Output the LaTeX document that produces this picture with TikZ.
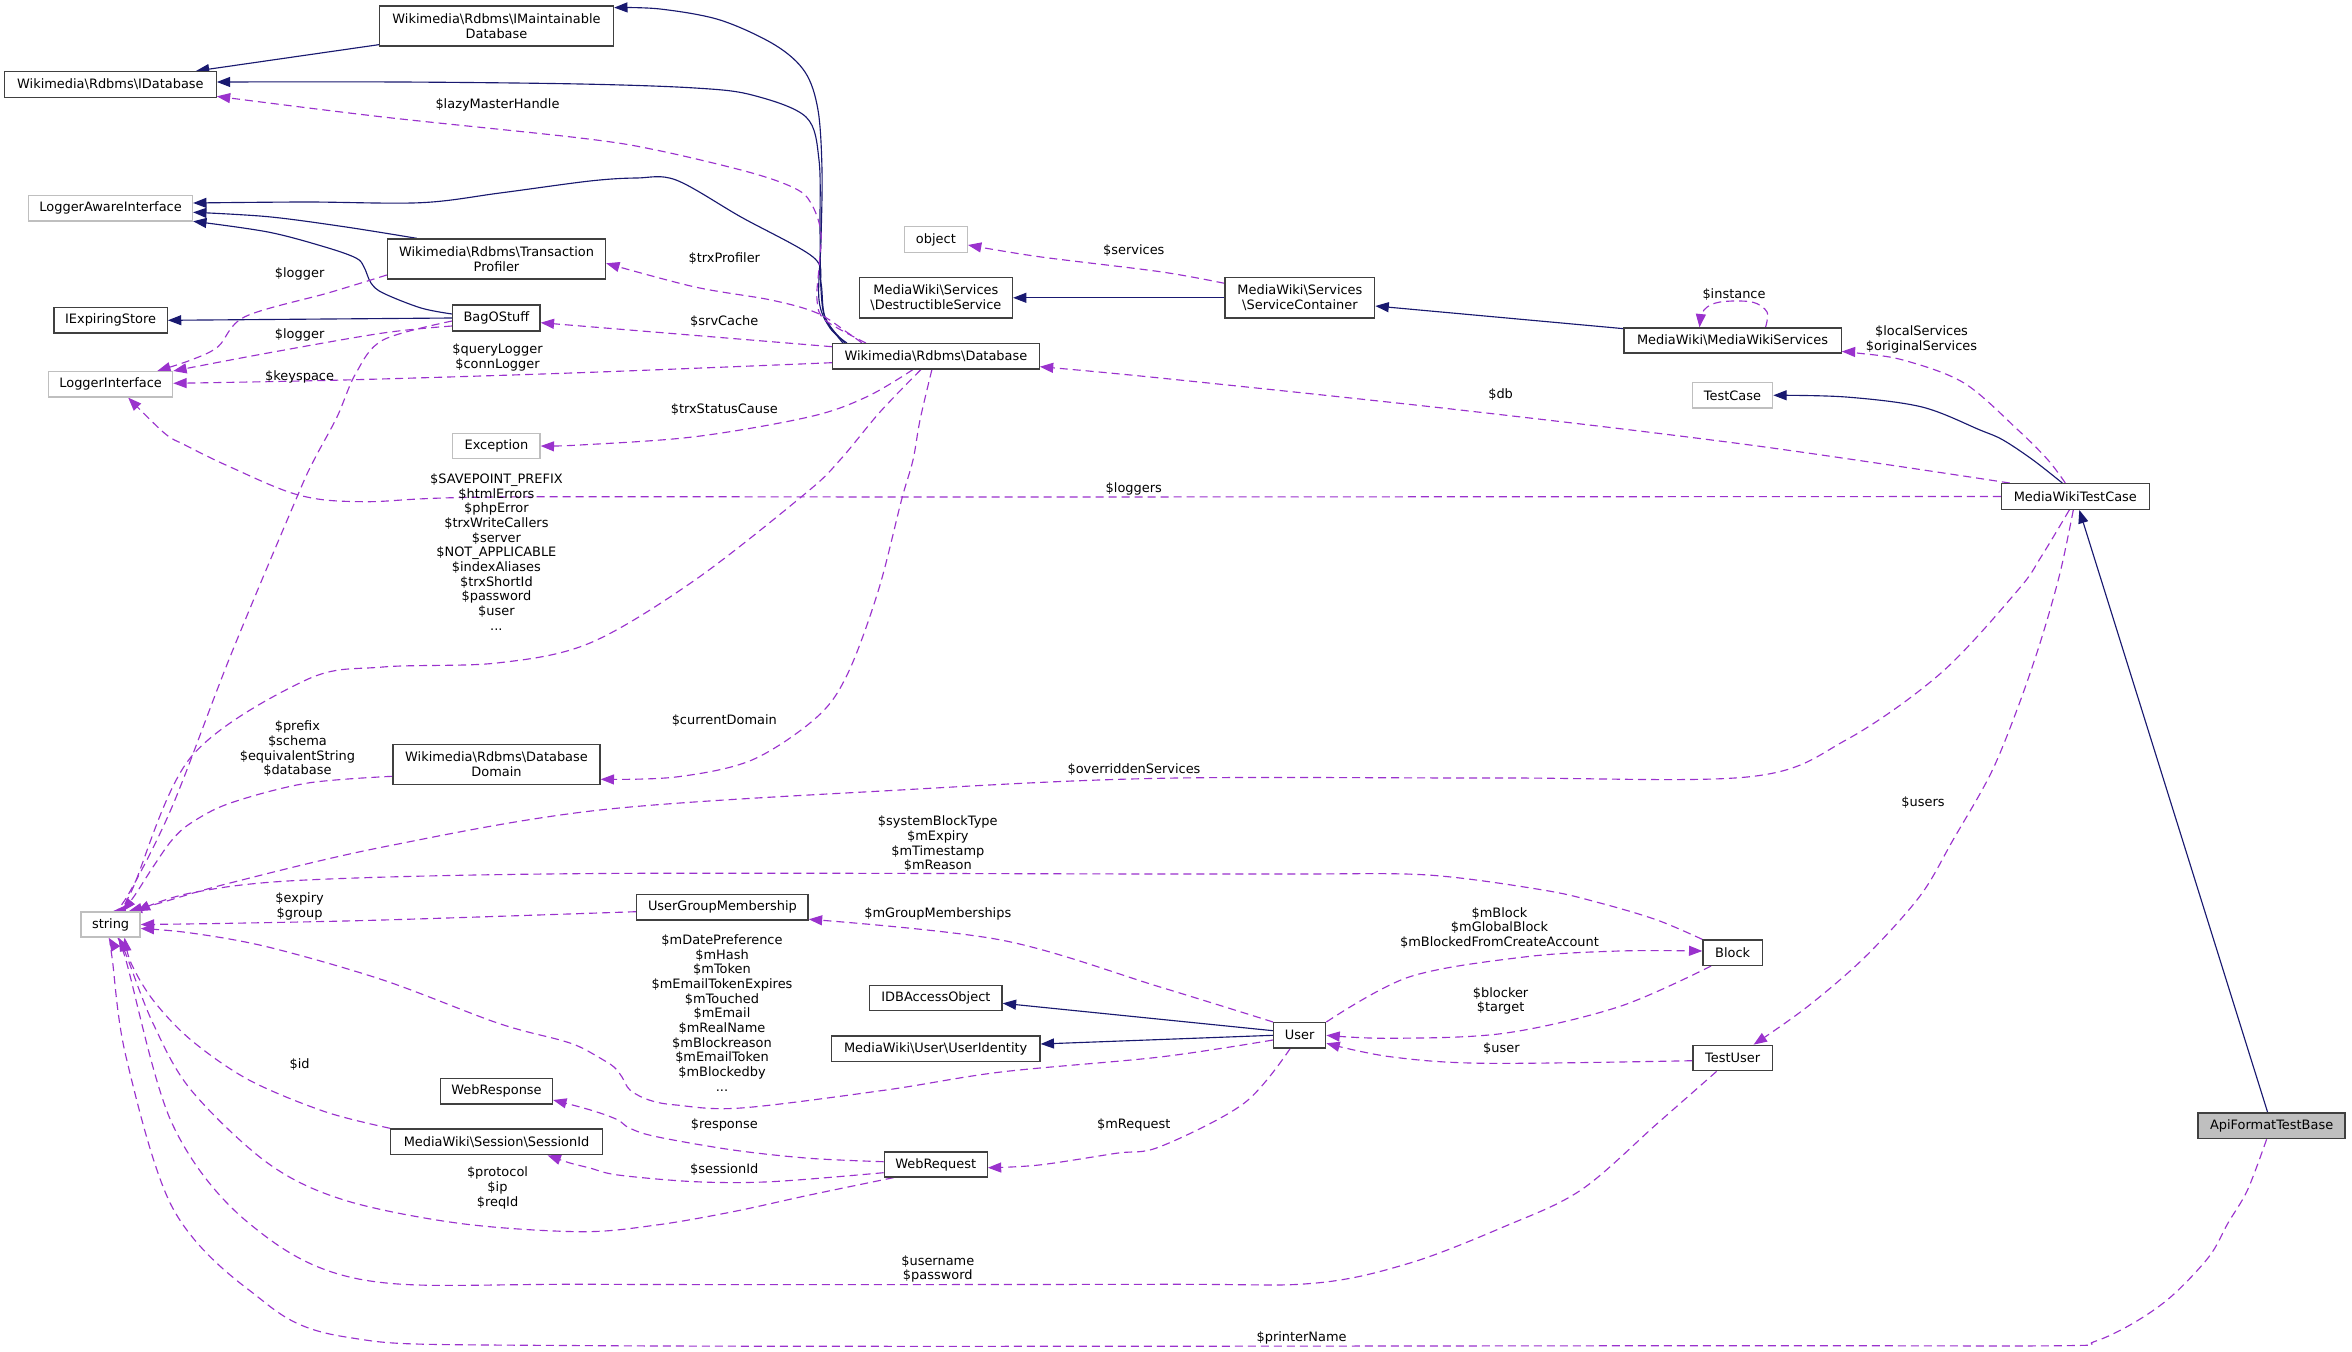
\documentclass[tikz,border=0pt]{standalone}
\usepackage{fontspec}
\setmainfont{DejaVu Sans}
\usetikzlibrary{arrows.meta,calc}
\definecolor{inhc}{HTML}{191970}
\definecolor{usec}{HTML}{9A32CD}
\definecolor{bordc}{HTML}{404040}
\definecolor{grayc}{HTML}{BFBFBF}
\newcommand{\mybs}{\textbackslash}
\pgfdeclarelayer{bglayer}
\pgfdeclarelayer{edgelayer}
\pgfsetlayers{bglayer,edgelayer,main}
\tikzset{
  cls/.style={draw=bordc,line width=1pt,fill=white,inner sep=0pt,align=center},
  ext/.style={cls,draw=grayc},
  wh/.style 2 args={minimum width=#1*0.75pt,minimum height=#2*0.75pt},
  arrhd/.style={-{Triangle[length=10pt,width=7.5pt]}},
  inherit/.style={draw=inhc,line width=0.85pt,arrhd},
  usage/.style={draw=usec,line width=0.85pt,dash pattern=on 6pt off 3.75pt,arrhd},
  lbl/.style={align=center,inner sep=0pt},
  sm/.style={smooth,tension=0.55}
}
\begin{document}
\begin{tikzpicture}[x=0.75pt,y=-0.75pt,font=\fontsize{9.7}{11}\selectfont]
\begin{pgfonlayer}{bglayer}
\fill[white] (0,0) rectangle (2352,1352);
\end{pgfonlayer}
\useasboundingbox (0,0) rectangle (2352,1352);

% ---------- nodes ----------
\node[cls,wh={234}{40}] (imaint) at (496.5,26) {Wikimedia\mybs Rdbms\mybs IMaintainable\\Database};
\node[cls,wh={211.6}{25.6}] (idb) at (110.4,84.5) {Wikimedia\mybs Rdbms\mybs IDatabase};
\node[ext,wh={163.8}{25.3}] (lai) at (110.6,208.3) {LoggerAwareInterface};
\node[cls,wh={218}{40}] (tp) at (496.5,259) {Wikimedia\mybs Rdbms\mybs Transaction\\Profiler};
\node[cls,wh={113.3}{25.3}] (ies) at (110.6,320.3) {IExpiringStore};
\node[cls,wh={87.3}{25.7}] (bag) at (496.4,318) {BagOStuff};
\node[ext,wh={124}{25.3}] (li) at (110.6,384.3) {LoggerInterface};
\node[ext,wh={87.3}{25.3}] (exc) at (496.4,446) {Exception};
\node[ext,wh={62.8}{25.6}] (obj) at (935.9,239.5) {object};
\node[cls,wh={153}{40.3}] (ds) at (935.9,297.8) {MediaWiki\mybs Services\\\mybs DestructibleService};
\node[cls,wh={206.6}{25.3}] (db) at (935.9,356.3) {Wikimedia\mybs Rdbms\mybs Database};
\node[cls,wh={149.7}{40.3}] (sc) at (1299.9,297.8) {MediaWiki\mybs Services\\\mybs ServiceContainer};
\node[cls,wh={217.3}{25}] (mws) at (1732.5,340.5) {MediaWiki\mybs MediaWikiServices};
\node[ext,wh={80.3}{25.3}] (tc) at (1732.5,395.3) {TestCase};
\node[cls,wh={147.8}{25.6}] (mwtc) at (2075.3,496.5) {MediaWikiTestCase};
\node[cls,wh={207}{40}] (dd) at (496.5,764.3) {Wikimedia\mybs Rdbms\mybs Database\\Domain};
\node[ext,wh={59}{25}] (str) at (110.6,924.5) {string};
\node[cls,wh={112}{25.3}] (wresp) at (496.5,1091.3) {WebResponse};
\node[cls,wh={211.5}{25.7}] (sid) at (496.5,1141.8) {MediaWiki\mybs Session\mybs SessionId};
\node[cls,wh={171.5}{25.3}] (ugm) at (722.4,907.3) {UserGroupMembership};
\node[cls,wh={132.4}{25.4}] (idba) at (935.9,998) {IDBAccessObject};
\node[cls,wh={208.6}{25.3}] (uid) at (935.7,1048.7) {MediaWiki\mybs User\mybs UserIdentity};
\node[cls,wh={103}{25}] (wreq) at (935.7,1164.5) {WebRequest};
\node[cls,wh={52}{25.3}] (user) at (1299.7,1035.3) {User};
\node[cls,wh={59.2}{25.3}] (block) at (1732.6,952.7) {Block};
\node[cls,wh={79.2}{25.4}] (tuser) at (1732.6,1058) {TestUser};
\node[cls,wh={147}{25.7},fill=grayc] (api) at (2271.6,1125.8) {ApiFormatTestBase};

\begin{pgfonlayer}{edgelayer}
% ---------- inheritance ----------
\draw[inherit] ($(imaint.south west)+(0,-2)$) -- ($(idb.north east)+(-21,0)$);
\draw[inherit] plot[sm] coordinates {($(db.north west)+(15,0)$) (830,328) (819,300) (821,240) (822,170) (818,110) (805,72) (775,45) (720,20) (660,9) ($(imaint.north east)+(0,2.3)$)};
\draw[inherit] plot[sm] coordinates {($(db.north west)+(13,0)$) (826,320) (821,290) (820,230) (819,160) (806,117) (752,95) (695,88) (580,84) (400,82) ($(idb.east)+(0,-2.5)$)};
\draw[inherit] plot[sm] coordinates {($(db.north west)+(11,0)$) (825,317) (821,283) (813,257) (741,217) (676,180) (637,178) (590,181) (500,193) (421,202.7) (306,202) ($(lai.east)+(0,-5.3)$)};
\draw[inherit] plot[sm] coordinates {($(tp.north west)+(30,0)$) (344,226.7) (268,216.7) ($(lai.east)+(0,4)$)};
\draw[inherit] plot[sm] coordinates {($(bag.west)+(0,-4)$) (421,308) (383,293) (371,283) (364,267) (356,258) (325,247) (268,232) ($(lai.east)+(0,13)$)};
\draw[inherit] (bag.west) -- (ies.east);
\draw[inherit] (sc.west) -- (ds.east);
\draw[inherit] ($(mws.north west)+(0,1.3)$) -- ($(sc.east)+(0,8.2)$);
\draw[inherit] plot[sm] coordinates {($(mwtc.north)+(-13,0)$) (2033,460) (2003,440) (1980,430) (1922,407) (1846,397) (tc.east)};
\draw[inherit] ($(api.north)+(-4,0)$) -- ($(mwtc.south)+(4,0)$);
\draw[inherit] ($(user.west)+(0,-4.6)$) -- ($(idba.east)+(0,5.3)$);
\draw[inherit] (user.west) -- ($(uid.east)+(0,-4.7)$);

% ---------- usage ----------
\draw[usage] plot[sm] coordinates {($(db.north west)+(34,0)$) (825,320) (817,300) (819,267) (821,233) (813,207) (798,190) (752,173) (656,150) (580,138) (383,117) ($(idb.south east)+(0,-1.6)$)};
\draw[usage] plot[sm] coordinates {($(db.north west)+(30,0)$) (848,333) (817,313) (771,300) (695,287) ($(tp.east)+(0,4.3)$)};
\draw[usage] ($(db.west)+(0,-9.6)$) -- ($(bag.east)+(0,4.7)$);
\draw[usage] plot[sm] coordinates {($(db.west)+(0,6.4)$) (580,372.7) (344,380) ($(li.east)+(0,-1)$)};
\draw[usage] plot[sm] coordinates {($(tp.west)+(0,16)$) (329,292.7) (245,316.7) (218,346.7) (191,360) ($(li.north east)+(-16,0)$)};
\draw[usage] plot[sm] coordinates {($(bag.west)+(0,8)$) (383,333) (268,353) (li.north east)};
\draw[usage] plot[sm] coordinates {($(bag.west)+(0,3)$) (383,340) (356,373) (337,417) (314,460) (297,497) (230,657) (172,807) (128,895) ($(str.north)+(2,0)$)};
\draw[usage] plot[sm] coordinates {($(db.south)+(-23,0)$) (867,396.7) (810,416.7) (695,436.7) (580,445) (exc.east)};
\draw[usage] plot[sm] coordinates {($(db.south)+(-15,0)$) (880,412) (840,460) (806,493) (695,580) (590,643) (497,663) (383,667) (306,680) (191,757) (132,890) ($(str.north)+(7,0)$)};
\draw[usage] plot[sm] coordinates {($(db.south)+(-4,0)$) (920,420) (913,460) (901.5,500) (878.5,590) (848,673) (817,717) (752,760) (676,777) ($(dd.east)+(0,15)$)};
\draw[usage] plot[sm] coordinates {($(dd.west)+(0,12)$) (306,783.3) (229.6,803.3) (191,823) (172,840) (153,867) (135,895) ($(str.north)+(12,0)$)};
\draw[usage] plot[sm] coordinates {(mwtc.west) (1000,497) (497.5,497) (364,501.7) (298.5,495) (229.6,466.7) (185,445) (164.6,433.3) ($(li.south)+(17.6,0)$)};
\draw[usage] plot[sm] coordinates {($(mwtc.north west)+(9,0)$) (1750,445) (1460,410) (1160,378) ($(db.east)+(0,10.4)$)};
\draw[usage] plot[sm] coordinates {($(mwtc.north)+(-10,0)$) (2048,460) (2018,430) (1964,383) (1903,360) (1857,353) ($(mws.east)+(0,11)$)};
\draw[usage] plot[sm] coordinates {($(mws.north)+(33,0)$) (1767,312) (1752,302) (1720,302) (1704,310) ($(mws.north)+(-33,0)$)};
\draw[usage] plot[sm] coordinates {($(sc.west)+(0,-14.5)$) (1160,271.7) (1039,256.7) ($(obj.east)+(0,5.5)$)};
\draw[usage] plot[sm] coordinates {($(mwtc.south)+(-6,0)$) (2041,557) (2018,590) (1941,673) (1846,740) (1750,776.7) (1500,778) (1160,778.3) (900,790) (600,810) (383,847) (230,883) (160,903) ($(str.north)+(18,0)$)};
\draw[usage] plot[sm] coordinates {($(mwtc.south)+(-2,0)$) (2060,573) (2041,640) (2018,707) (1991,773) (1953,840) (1920,896) (1865,957) (1807,1007) ($(tuser.north)+(21,0)$)};
\draw[usage] plot[sm] coordinates {(block.north west) (1657,920) (1600,903) (1543,890) (1428,875) (1300,874) (1160,874) (600,873.5) (306,880) (191,893) ($(str.north east)+(-4,0)$)};
\draw[usage] plot[sm] coordinates {($(ugm.west)+(0,4.4)$) (383,920) (230,923.3) (str.east)};
\draw[usage] plot[sm] coordinates {(user.north west) (1160,987) (1001,940) ($(ugm.east)+(0,12)$)};
\draw[usage] plot[sm] coordinates {($(user.west)+(0,4.7)$) (1160,1057) (1001,1072) (886,1090) (741,1108) (676,1105) (649,1100) (630,1090) (622,1077) (614,1067) (600,1058) (580,1047) (560,1040) (497.5,1023) (383,980) (268,947) (191,933) ($(str.east)+(0,4)$)};
\draw[usage] plot[sm] coordinates {(user.north east) (1409,977) (1524,957) (1619,951) ($(block.west)+(0,-1.7)$)};
\draw[usage] plot[sm] coordinates {($(block.south)+(-21.5,0)$) (1619,1006.7) (1504,1033.3) (1390,1038.3) (user.east)};
\draw[usage] plot[sm] coordinates {($(tuser.west)+(0,2.7)$) (1485,1063.3) (1390,1056.7) ($(user.east)+(0,8)$)};
\draw[usage] plot[sm] coordinates {($(user.south)+(-9.6,0)$) (1244,1103.3) (1160,1146.7) (1116,1153.3) (1039,1165) ($(wreq.east)+(0,3.2)$)};
\draw[usage] plot[sm] coordinates {($(wreq.west)+(0,-2.8)$) (809.6,1158.3) (733,1150) (656.5,1136.7) (630,1128.3) (618,1120) (600,1113) (580,1107) ($(wresp.east)+(0,8.7)$)};
\draw[usage] plot[sm] coordinates {($(wreq.west)+(0,8.2)$) (771,1181.7) (695,1181.7) (618,1175) (590,1168) (570,1163) ($(sid.south)+(51,0)$)};
\draw[usage] plot[sm] coordinates {($(wreq.south west)+(10,0)$) (809.6,1195) (733,1211.7) (656.5,1225) (580,1231.7) (459,1223.3) (344,1200) (268,1163.3) (191,1090) (153,1023.3) (127,957) ($(str.south)+(8,0)$)};
\draw[usage] plot[sm] coordinates {(sid.north west) (325,1111.7) (249,1080) (191,1040) (153,1000) (131,963) ($(str.south)+(14,0)$)};
\draw[usage] plot[sm] coordinates {($(tuser.south)+(-16,0)$) (1657.5,1123.3) (1581,1190) (1504,1226.7) (1409,1263.3) (1313,1283.3) (1160,1284.3) (600,1284.3) (364,1280) (249,1223.3) (172,1123.3) (125,957) ($(str.south)+(4,0)$)};
\draw[usage] plot[sm] coordinates {($(api.south)+(-5,0)$) (2247.5,1190) (2228,1223) (2209,1256.7) (2171,1296.7) (2133,1323.3) (2094,1341.7) (2060,1345.7) (1750,1345.7) (600,1345.7) (344,1336.7) (249,1290) (172,1206.7) (126,1056.7) (112,957) ($(str.south)+(-2,0)$)};
\end{pgfonlayer}

% ---------- labels ----------
\node[lbl] (lLazy) at (497.5,105.3) {\$lazyMasterHandle};
\node[lbl] (lLog1) at (299.6,273.7) {\$logger};
\node[lbl] (lLog2) at (299.6,334.7) {\$logger};
\node[lbl] (lQL) at (497.5,357.3) {\$queryLogger\\\$connLogger};
\node[lbl] (lKey) at (299.6,376.7) {\$keyspace};
\node[lbl] (lTrxP) at (724.3,258.3) {\$trxProfiler};
\node[lbl] (lSrv) at (724.3,321.3) {\$srvCache};
\node[lbl] (lTrxS) at (724.3,409.3) {\$trxStatusCause};
\node[lbl] (lServ) at (1133.8,250.7) {\$services};
\node[lbl] (lInst) at (1734,295) {\$instance};
\node[lbl] (lLocal) at (1921.5,339.5) {\$localServices\\\$originalServices};
\node[lbl] (lDb) at (1500.6,395) {\$db};
\node[lbl] (lLoggers) at (1133.8,489) {\$loggers};
\node[lbl] (lSave) at (496.4,552) {\$SAVEPOINT\_PREFIX\\\$htmlErrors\\\$phpError\\\$trxWriteCallers\\\$server\\\$NOT\_APPLICABLE\\\$indexAliases\\\$trxShortId\\\$password\\\$user\\...};
\node[lbl] (lCur) at (724.3,721) {\$currentDomain};
\node[lbl] (lPre) at (297.4,748.7) {\$prefix\\\$schema\\\$equivalentString\\\$database};
\node[lbl] (lOver) at (1134,770) {\$overriddenServices};
\node[lbl] (lUsers) at (1923,802.7) {\$users};
\node[lbl] (lSys) at (937.8,843.7) {\$systemBlockType\\\$mExpiry\\\$mTimestamp\\\$mReason};
\node[lbl] (lExp) at (299.6,906.3) {\$expiry\\\$group};
\node[lbl] (lGrp) at (937.8,913.7) {\$mGroupMemberships};
\node[lbl] (lMB) at (1499.5,928) {\$mBlock\\\$mGlobalBlock\\\$mBlockedFromCreateAccount};
\node[lbl] (lMD) at (722,1013) {\$mDatePreference\\\$mHash\\\$mToken\\\$mEmailTokenExpires\\\$mTouched\\\$mEmail\\\$mRealName\\\$mBlockreason\\\$mEmailToken\\\$mBlockedby\\...};
\node[lbl] (lBlk) at (1500.6,1000.8) {\$blocker\\\$target};
\node[lbl] (lUser) at (1501.4,1048.7) {\$user};
\node[lbl] (lId) at (299.6,1065) {\$id};
\node[lbl] (lResp) at (724.3,1125) {\$response};
\node[lbl] (lReq) at (1133.8,1125) {\$mRequest};
\node[lbl] (lSess) at (724.3,1169.3) {\$sessionId};
\node[lbl] (lProt) at (497.5,1188) {\$protocol\\\$ip\\\$reqId};
\node[lbl] (lUn) at (937.8,1269) {\$username\\\$password};
\node[lbl] (lPrn) at (1301.6,1337.7) {\$printerName};
\end{tikzpicture}
\end{document}
